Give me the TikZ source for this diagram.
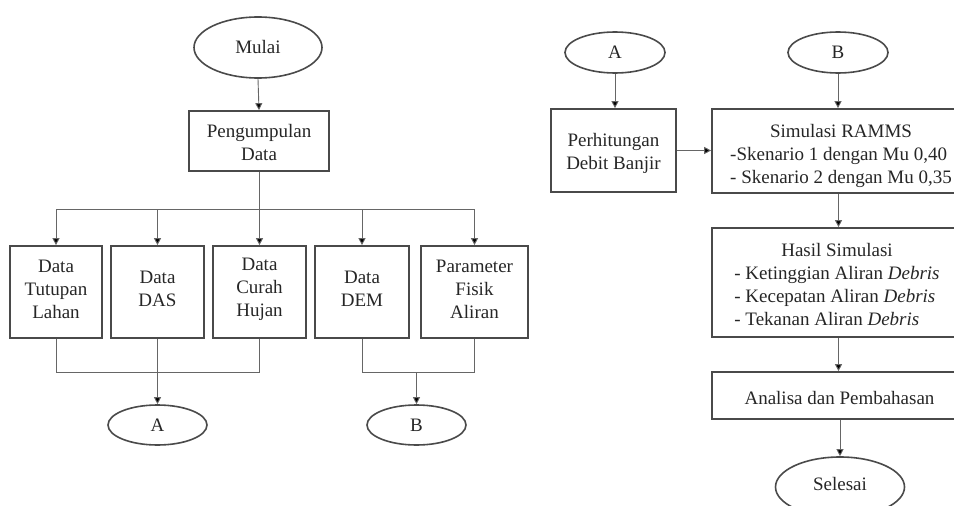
\documentclass[tikz,border=0pt]{standalone}
\usepackage{fontspec}
\setmainfont{Liberation Serif}
\usetikzlibrary{shapes.geometric,arrows.meta}
\definecolor{boxline}{HTML}{4A4A4A}
\definecolor{conline}{HTML}{666666}
\definecolor{txt}{HTML}{262626}
\begin{document}
\begin{tikzpicture}[x=1pt,y=-1pt,
  every node/.style={font=\fontsize{19}{23}\selectfont, text=txt},
  box/.style={draw=boxline, line width=1.7pt, rectangle, inner sep=0pt},
  lbl/.style={inner sep=0pt, align=center},
  oval/.style={draw=boxline, line width=1.6pt, ellipse, inner sep=0pt},
  con/.style={draw=conline, line width=0.9pt},
  arr/.style={con, -{Triangle[length=7pt,width=7pt,fill=black]}}]
\useasboundingbox (0,0) rectangle (954,506);
\clip (0,0) rectangle (954,506);
% left part
\node[oval, minimum width=128pt, minimum height=61pt] (mulai) at (258,47.5) {Mulai};
\node[box, minimum width=140pt, minimum height=60pt] (peng) at (259,141) {};
\node[lbl] (pengt) at (259,143) {Pengumpulan\\Data};
\node[box, minimum width=92pt, minimum height=92pt] (d1) at (56,292) {};
\node[box, minimum width=93pt, minimum height=92pt] (d2) at (157.5,292) {};
\node[box, minimum width=93pt, minimum height=92pt] (d3) at (259.5,292) {};
\node[box, minimum width=94pt, minimum height=92pt] (d4) at (362,292) {};
\node[box, minimum width=107pt, minimum height=92pt] (d5) at (474.5,292) {};
\node[lbl] (d1t) at (56,289) {Data\\Tutupan\\Lahan};
\node[lbl] (d2t) at (157.5,289) {Data\\DAS};
\node[lbl] (d3t) at (259.5,289) {Data\\Curah\\Hujan};
\node[lbl] (d4t) at (362,289) {Data\\DEM};
\node[lbl] (d5t) at (474.5,289) {Parameter\\Fisik\\Aliran};
\node[oval, minimum width=99pt, minimum height=40pt] (A1) at (157.5,425) {A};
\node[oval, minimum width=99pt, minimum height=40pt] (B1) at (416.5,425) {B};
\coordinate (br) at (0,209);
\coordinate (jn) at (0,372);
\draw[arr] (mulai.south) -- (peng.north);
\draw[con] (peng.south) -- (peng.south |- br);
\draw[con] (d1.north |- br) -- (d5.north |- br);
\foreach \n in {d1,d2,d3,d4,d5} \draw[arr] (\n.north |- br) -- (\n.north);
\draw[con] (d1.south) -- (d1.south |- jn) -- (d3.south |- jn) -- (d3.south);
\draw[arr] (d2.south) -- (A1.north);
\draw[con] (d4.south) -- (d4.south |- jn) -- (d5.south |- jn) -- (d5.south);
\draw[arr] (B1.north |- jn) -- (B1.north);
% right part
\node[oval, minimum width=100pt, minimum height=41pt] (A2) at (615,52.5) {A};
\node[oval, minimum width=100pt, minimum height=41pt] (B2) at (838,52.5) {B};
\node[box, minimum width=125pt, minimum height=83pt] (perh) at (613.5,150.5) {};
\node[lbl] (perht) at (613.5,153) {Perhitungan\\Debit Banjir};
\node[box, minimum width=253pt, minimum height=84pt] (sim) at (838.5,151) {};
\node[lbl] (simt) at (841,156)
  {\begin{tabular}{@{}l@{}}\multicolumn{1}{@{}c@{}}{Simulasi RAMMS}\\-Skenario 1 dengan Mu 0,40\\- Skenario 2 dengan Mu 0,35\end{tabular}};
\node[box, minimum width=253pt, minimum height=109pt] (hasil) at (838.5,282.5) {};
\node[lbl] (hasilt) at (837,286)
  {\begin{tabular}{@{}l@{}}\multicolumn{1}{@{}c@{}}{Hasil Simulasi}\\- Ketinggian Aliran \textit{Debris}\\- Kecepatan Aliran \textit{Debris}\\- Tekanan Aliran \textit{Debris}\end{tabular}};
\node[box, minimum width=253pt, minimum height=47pt] (anal) at (838.5,395.5) {};
\node[lbl] (analt) at (839.5,398) {Analisa dan Pembahasan};
\node[oval, minimum width=129pt, minimum height=60pt] (sel) at (840,487) {};
\node[lbl] (selt) at (840,484) {Selesai};
\draw[arr] (A2.south) -- (A2.south |- perh.north);
\draw[arr] (perh.east) -- (perh.east -| sim.west);
\draw[arr] (B2.south) -- (B2.south |- sim.north);
\draw[arr] (sim.south) -- (hasil.north);
\draw[arr] (hasil.south) -- (anal.north);
\draw[arr] (sel.north |- anal.south) -- (sel.north);
\end{tikzpicture}
\end{document}
